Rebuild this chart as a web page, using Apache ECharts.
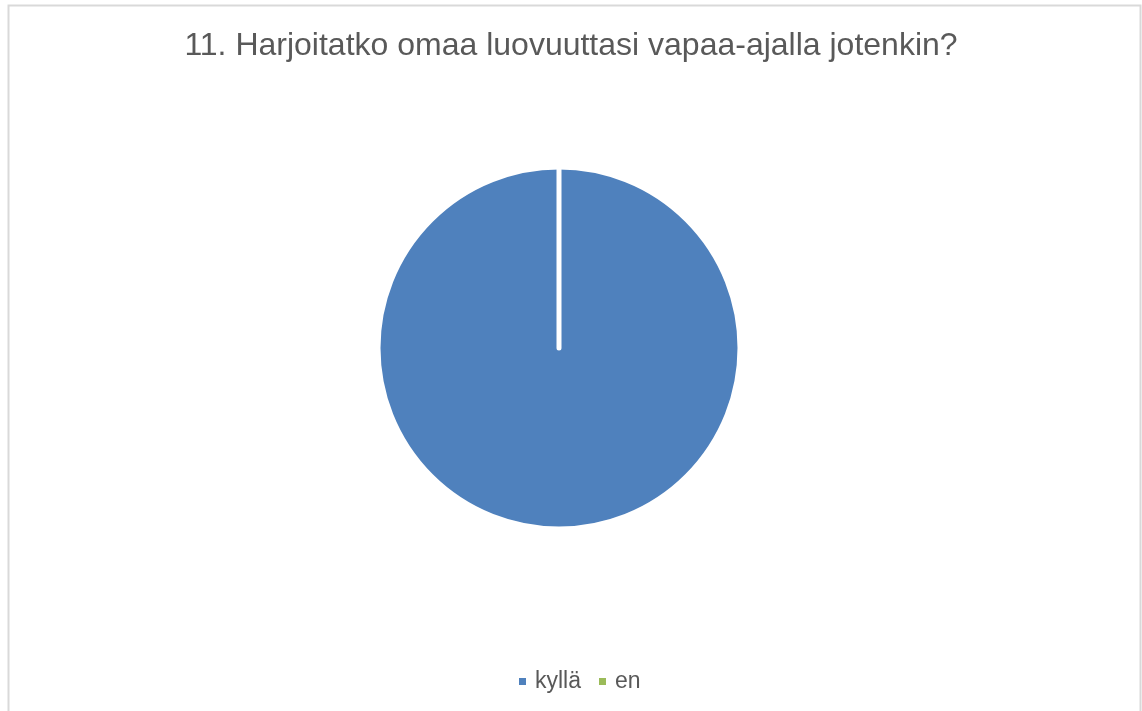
<!DOCTYPE html>
<html>
<head>
<meta charset="utf-8">
<script src="https://cdn.jsdelivr.net/npm/echarts@6/dist/echarts.min.js"></script>
<style>
  html, body { margin: 0; padding: 0; background: #ffffff; }
  #chart { width: 1142px; height: 711px; }
</style>
</head>
<body>
<div id="chart"></div>
<script>
// Survey answers: "Do you practise your creativity in your free time?"
const titleText = '11. Harjoitatko omaa luovuuttasi vapaa-ajalla jotenkin?';
const categories = ['kyllä', 'en'];
const counts = [100, 0];
const colors = ['#4f81bd', '#9bbb59'];

const chart = echarts.init(document.getElementById('chart'), null, { renderer: 'canvas' });

chart.setOption({
  backgroundColor: '#ffffff',
  animation: false,
  graphic: [{
    type: 'rect',
    shape: { x: 8.5, y: 5.5, width: 1132, height: 720 },
    style: { fill: 'none', stroke: '#d9d9d9', lineWidth: 2 },
    silent: true
  }],
  title: {
    text: titleText,
    left: 'center',
    top: 25,
    textStyle: {
      fontFamily: 'Liberation Sans, Arial, sans-serif',
      fontSize: 32,
      fontWeight: 'normal',
      color: '#595959'
    }
  },
  legend: {
    data: categories,
    top: 665,
    left: 514,
    padding: 5,
    icon: 'rect',
    itemWidth: 7,
    itemHeight: 7,
    itemGap: 18,
    itemStyle: { borderWidth: 0 },
    textStyle: {
      fontFamily: 'Liberation Sans, Arial, sans-serif',
      fontSize: 23,
      color: '#595959',
      padding: [0, 0, 0, 4]
    }
  },
  series: [{
    type: 'pie',
    center: [559, 348],
    radius: 181,
    startAngle: 90,
    clockwise: true,
    label: { show: false },
    labelLine: { show: false },
    emphasis: { disabled: true },
    itemStyle: { borderColor: '#ffffff', borderWidth: 5 },
    data: categories.map((name, i) => ({
      name,
      value: counts[i],
      itemStyle: { color: colors[i] }
    }))
  }]
});
</script>
</body>
</html>
